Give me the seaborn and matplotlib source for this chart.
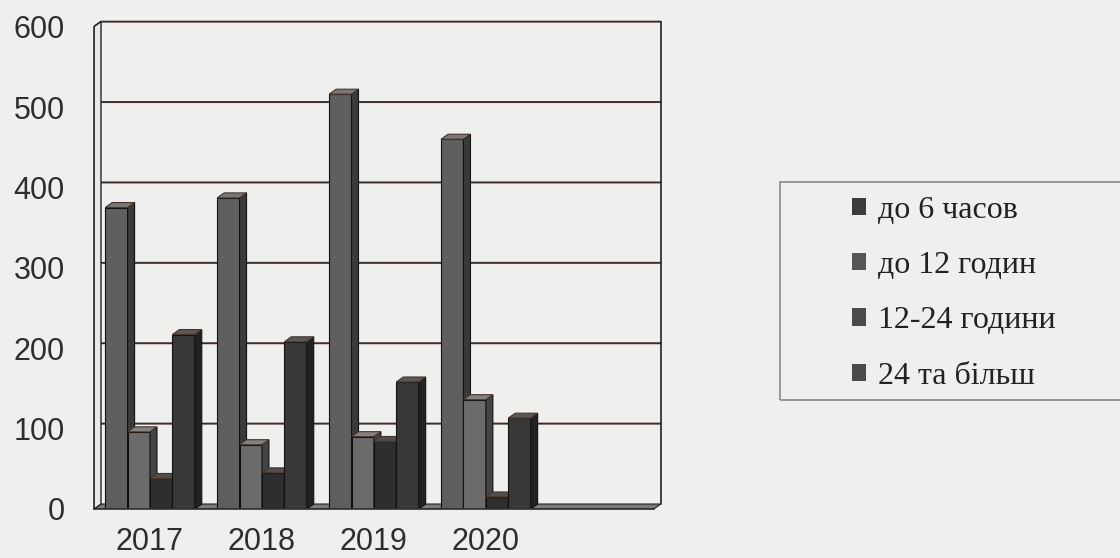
import matplotlib
matplotlib.use("Agg")
import matplotlib.pyplot as plt
from matplotlib.patches import Polygon, Patch, Rectangle
import seaborn as sns
import pandas as pd
import numpy as np

# values
years = ["2017", "2018", "2019", "2020"]
series = ["до 6 часов", "до 12 годин", "12-24 години", "24 та більш"]
do_6 = [375, 387, 516, 460]
do_12 = [96, 80, 90, 136]
h12_24 = [38, 45, 84, 15]
h24_plus = [217, 208, 158, 113]
yticks = [0, 100, 200, 300, 400, 500, 600]

front = ["#5f5f5f", "#6b6b6b", "#2e2e2e", "#383838"]
side = ["#3a3a3a", "#444444", "#1b1b1b", "#222222"]
top = ["#787878", "#828282", "#4e4e4e", "#585858"]
paper = "#efefed"
ink = "#2e2e2e"

df = pd.DataFrame({
    "year": years * 4,
    "group": [s for s in series for _ in years],
    "value": do_6 + do_12 + h12_24 + h24_plus,
})

sns.set_style("white")
plt.rcParams["font.family"] = ["Liberation Sans", "DejaVu Sans"]

fig = plt.figure(figsize=(11.2, 5.58), dpi=100, facecolor=paper)
# 3d depth of the excel chart, in data units
dx, dy = 0.0625, 6.2
ax = fig.add_axes([94 / 1120, 49 / 558, 571 / 1120, 492 / 558])
ax.set_facecolor(paper)

sns.barplot(data=df, x="year", y="value", hue="group", hue_order=series,
            palette=front, width=0.8, errorbar=None, legend=False,
            edgecolor="#111111", linewidth=0.8, ax=ax)

n = len(years)
x_left, x_right = -0.5, n + 0.5

# floor
ax.add_patch(Polygon([(x_left, 0), (x_right, 0), (x_right + dx, dy), (x_left + dx, dy)],
                     closed=True, facecolor="#7a7a7a", edgecolor="#222222", lw=0.8, zorder=1))
# left wall
ax.add_patch(Polygon([(x_left, 0), (x_left + dx, dy), (x_left + dx, 600 + dy), (x_left, 600)],
                     closed=True, facecolor="#e8e8e6", edgecolor="#222222", lw=1.0, zorder=1))
# gridlines on the back wall
for v in yticks[1:]:
    ax.plot([x_left, x_left + dx, x_right + dx], [v, v + dy, v + dy],
            color="#3a2e2a", lw=1.4, zorder=0.8)
ax.plot([x_right + dx, x_right + dx], [dy, 600 + dy], color="#222222", lw=1.2, zorder=0.8)

# fake 3d faces for each bar
for j, cont in enumerate(ax.containers):
    for bar in cont:
        x0, w, h = bar.get_x(), bar.get_width(), bar.get_height()
        bar.set_zorder(3 + 2 * j)
        ax.add_patch(Polygon([(x0 + w, 0), (x0 + w + dx, dy), (x0 + w + dx, h + dy), (x0 + w, h)],
                             closed=True, facecolor=side[j], edgecolor="#111111", lw=0.8,
                             zorder=3.5 + 2 * j))
        ax.add_patch(Polygon([(x0, h), (x0 + dx, h + dy), (x0 + w + dx, h + dy), (x0 + w, h)],
                             closed=True, facecolor=top[j], edgecolor="#4a3328", lw=0.8,
                             zorder=3.5 + 2 * j))

ax.set_xlim(x_left, x_right + 0.1)
ax.set_ylim(0, 612)
for s in ["top", "right"]:
    ax.spines[s].set_visible(False)
ax.spines["left"].set_bounds(0, 600)
ax.spines["bottom"].set_bounds(x_left, x_right)
for s in ["left", "bottom"]:
    ax.spines[s].set_color(ink)
    ax.spines[s].set_linewidth(1.2)
    ax.spines[s].set_zorder(20)

ax.set_yticks(yticks)
ax.set_yticklabels([str(v) for v in yticks])
ax.set_xticks(np.arange(n + 2) - 0.5)
ax.set_xticklabels([""] * (n + 2))
ax.set_xticks(range(n), minor=True)
ax.set_xticklabels(years, minor=True)
ax.tick_params(axis="y", direction="out", length=6, width=1.0, color=ink,
               labelsize=22, labelcolor=ink, pad=15)
ax.tick_params(axis="x", which="major", direction="out", length=7, width=1.0, color=ink)
ax.tick_params(axis="x", which="minor", length=0, labelsize=22, labelcolor=ink, pad=13)
ax.set_xlabel("")
ax.set_ylabel("")

# legend box runs off the right edge like in the scan
fig.patches.append(Rectangle((780 / 1120, 1 - 400 / 558), 360 / 1120, 218 / 558,
                             transform=fig.transFigure, facecolor="none",
                             edgecolor="#8a8a8a", lw=1.2))
handles = [Patch(facecolor=c, edgecolor="none") for c in ["#3c3c3c", "#555555", "#4a4a4a", "#4a4a4a"]]
fig.legend(handles, series, loc="upper left", bbox_to_anchor=(852 / 1120, 1 - 196 / 558),
           frameon=False, borderpad=0, borderaxespad=0, handlelength=0.45, handleheight=0.45,
           handletextpad=0.35, labelspacing=0.82,
           prop={"family": ["Liberation Serif", "DejaVu Serif"], "size": 23}, labelcolor="#222222")

fig.savefig("out.png", dpi=100, facecolor=paper)
